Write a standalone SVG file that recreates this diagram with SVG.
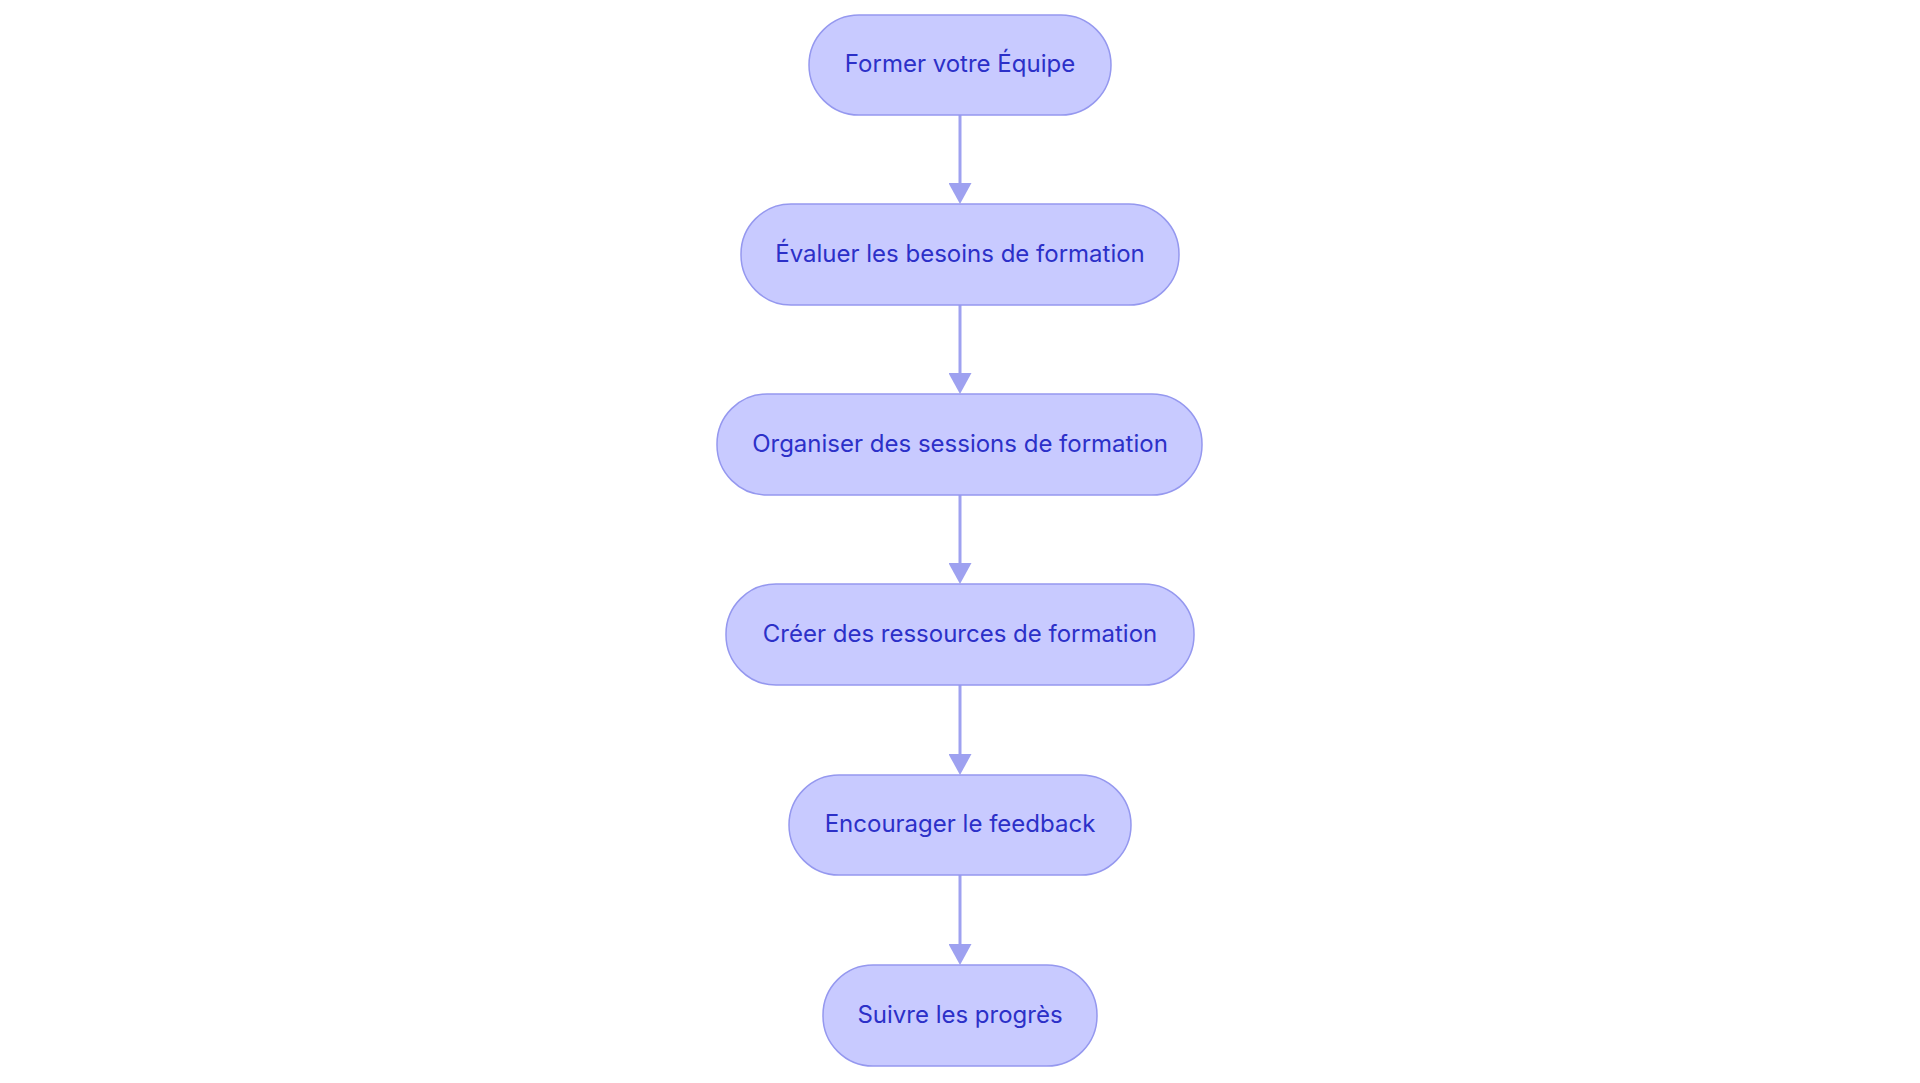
<svg xmlns="http://www.w3.org/2000/svg" width="1920" height="1083" viewBox="0 0 1920 1083">
<style>
.node rect{fill:#c8caff;stroke:#9598ef;stroke-width:1.5}
.node text{font-family:Inter,"Noto Sans",sans-serif;font-size:24px;fill:#2c30c8;text-anchor:middle;dominant-baseline:central}
.edge{stroke:#9ea1f0;stroke-width:3;fill:none;marker-end:url(#arr)}
</style>
<defs>
<marker id="arr" viewBox="0 0 21 23" refX="1" refY="11.5" markerWidth="21" markerHeight="23" markerUnits="userSpaceOnUse" orient="auto">
<path d="M0,0 L21,11.5 L0,23 z" fill="#9ea1f0"/>
</marker>
</defs>
<rect width="1920" height="1083" fill="#ffffff"/>
<g id="connectors">
<line class="edge" x1="960" y1="115" x2="960" y2="184"/>
<line class="edge" x1="960" y1="305" x2="960" y2="374"/>
<line class="edge" x1="960" y1="495" x2="960" y2="564"/>
<line class="edge" x1="960" y1="685" x2="960" y2="755"/>
<line class="edge" x1="960" y1="875" x2="960" y2="945"/>
</g>
<g id="n1" class="node"><rect x="809" y="15" width="302" height="100" rx="50"/><text x="960" y="63">Former votre Équipe</text></g>
<g id="n2" class="node"><rect x="741" y="204" width="438" height="101" rx="50"/><text x="960" y="253">Évaluer les besoins de formation</text></g>
<g id="n3" class="node"><rect x="717" y="394" width="485" height="101" rx="50"/><text x="960" y="443">Organiser des sessions de formation</text></g>
<g id="n4" class="node"><rect x="726" y="584" width="468" height="101" rx="50"/><text x="960" y="633">Créer des ressources de formation</text></g>
<g id="n5" class="node"><rect x="789" y="775" width="342" height="100" rx="50"/><text x="960" y="823">Encourager le feedback</text></g>
<g id="n6" class="node"><rect x="823" y="965" width="274" height="101" rx="50"/><text x="960" y="1014">Suivre les progrès</text></g>
</svg>
